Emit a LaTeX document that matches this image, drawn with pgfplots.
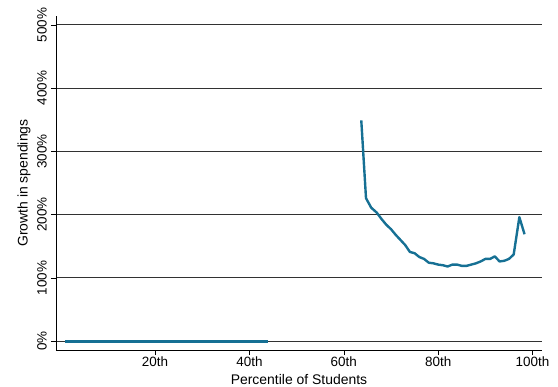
\documentclass[border=0pt]{standalone}
\usepackage{pgfplots}
\pgfplotsset{compat=1.18}
\usepackage{fontspec}
\setmainfont{Liberation Sans}
\definecolor{teal1}{RGB}{22,112,148}
\definecolor{gridc}{RGB}{50,50,50}
\begin{document}
\begin{tikzpicture}
\useasboundingbox (-56bp,-37bp) rectangle (502bp,350bp);
\begin{axis}[
  at={(0,0)}, anchor=south west,
  scale only axis, width=486bp, height=334bp,
  xmin=-1, xmax=102, ymin=-14, ymax=514,
  axis x line*=bottom, axis y line*=left,
  xtick={20,40,60,80,100},
  xticklabels={20th,40th,60th,80th,100th},
  ytick={0,100,200,300,400,500},
  yticklabels={0\%,100\%,200\%,300\%,400\%,500\%},
  yticklabel style={rotate=90, anchor=south, inner sep=4bp},
  xticklabel style={anchor=north, inner sep=1bp, yshift=-1bp},
  ymajorgrids, grid style={gridc, line width=0.9pt},
  tick style={black, line width=0.6pt},
  tick align=outside, major tick length=5bp,
  every tick label/.append style={font=\fontsize{13.5}{15}\selectfont},
  label style={font=\fontsize{14}{16}\selectfont},
  xlabel={Percentile of Students},
  ylabel={Growth in spendings},
  xlabel style={at={(axis description cs:0.5,-0.088)}, anchor=center},
  ylabel style={at={(axis description cs:-0.066,0.5)}, anchor=center},
  axis line style={black, line width=0.6pt},
  /pgf/number format/assume math mode=true,
  clip=false,
]
\addplot[teal1, line width=2.8pt] coordinates {
(1,0)(2,0)(3,0)(4,0)(5,0)(6,0)(7,0)(8,0)(9,0)(10,0)(11,0)(12,0)(13,0)(14,0)(15,0)
(16,0)(17,0)(18,0)(19,0)(20,0)(21,0)(22,0)(23,0)(24,0)(25,0)(26,0)(27,0)(28,0)(29,0)
(30,0)(31,0)(32,0)(33,0)(34,0)(35,0)(36,0)(37,0)(38,0)(39,0)(40,0)(41,0)(42,0)(43,0)(44,0)
};
\addplot[teal1, line width=2.4pt, line join=round] coordinates {
(63.7,349)(64.7,226)(65.8,211)(67,203)(68,193)(69,184)(70,177)(71,168)(72,160)(73,152)
(74,141)(75,139)(76,133)(77,130)(78,124)(79,123)(80,121)(81,120)(82,118)(83,121)
(84,121)(85,119)(86,119)(87,121)(88,123)(89,126)(90,130)(91,130)(92,134)(93,126)
(94,127)(95,130)(96,137)(97.2,196)(98.3,169)
};
\end{axis}
\end{tikzpicture}
\end{document}
